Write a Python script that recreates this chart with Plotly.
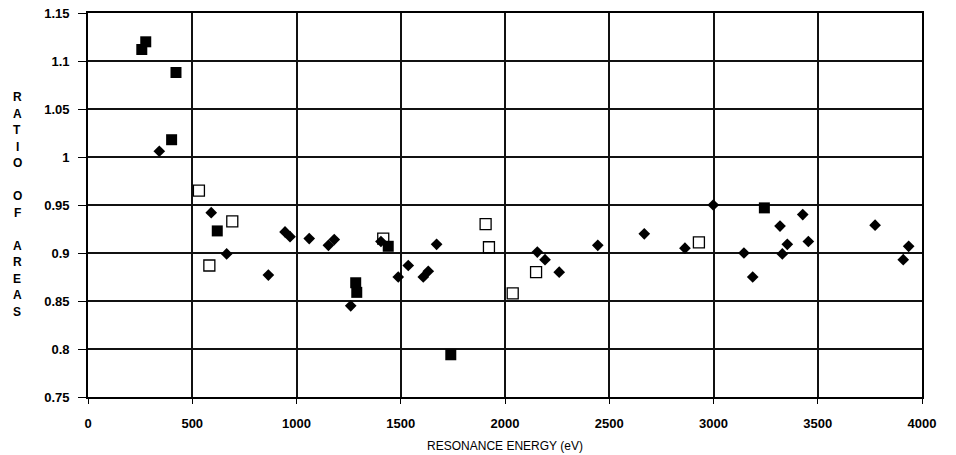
import plotly.graph_objects as go

# Resonance energies (eV) and ratio of areas, three data groups
diamond_energy = [342, 591, 665, 865, 945, 969, 1061, 1153, 1181, 1405, 1260, 1488,
                  1536, 1608, 1632, 1672, 2155, 2192, 2260, 2445, 2668, 2863, 2999,
                  3146, 3188, 3319, 3330, 3354, 3428, 3455, 3775, 3910, 3936]
diamond_ratio = [1.006, 0.942, 0.899, 0.877, 0.922, 0.917, 0.915, 0.908, 0.914, 0.912,
                 0.845, 0.875, 0.887, 0.875, 0.881, 0.909, 0.901, 0.893, 0.880, 0.908,
                 0.920, 0.905, 0.950, 0.900, 0.875, 0.928, 0.899, 0.909, 0.940, 0.912,
                 0.929, 0.893, 0.907]

filled_sq_energy = [258, 277, 422, 401, 620, 1284, 1289, 1440, 1740, 3244]
filled_sq_ratio = [1.112, 1.120, 1.088, 1.018, 0.923, 0.869, 0.859, 0.907, 0.794, 0.947]

open_sq_energy = [532, 692, 582, 1416, 1907, 1923, 2037, 2149, 2930]
open_sq_ratio = [0.965, 0.933, 0.887, 0.915, 0.930, 0.906, 0.858, 0.880, 0.911]

x_ticks = [0, 500, 1000, 1500, 2000, 2500, 3000, 3500, 4000]
y_ticks = [0.75, 0.8, 0.85, 0.9, 0.95, 1.0, 1.05, 1.1, 1.15]
y_tick_text = ["0.75", "0.8", "0.85", "0.9", "0.95", "1", "1.05", "1.1", "1.15"]

x_title = "RESONANCE ENERGY (eV)"
y_title_lines = ["R", "A", "T", "I", "O", "", "O", "F", "", "A", "R", "E", "A", "S"]

W, H = 956, 455
M_L, M_R, M_T, M_B = 88, 34, 13, 58
plot_w = W - M_L - M_R
plot_h = H - M_T - M_B

fig = go.Figure()

fig.add_trace(go.Scatter(
    x=open_sq_energy, y=open_sq_ratio, mode="markers", name="open",
    marker=dict(symbol="square", size=11, color="white",
                line=dict(color="black", width=1.3)),
))
fig.add_trace(go.Scatter(
    x=filled_sq_energy, y=filled_sq_ratio, mode="markers", name="filled",
    marker=dict(symbol="square", size=11, color="black",
                line=dict(color="black", width=0)),
))
fig.add_trace(go.Scatter(
    x=diamond_energy, y=diamond_ratio, mode="markers", name="diamond",
    marker=dict(symbol="diamond", size=9, color="black",
                line=dict(color="black", width=0)),
))

tick_font = dict(family="Liberation Sans, Arial, sans-serif", size=13,
                 color="black", weight="bold")

fig.update_xaxes(
    range=[0, 4000], tickvals=x_ticks, ticktext=[str(v) for v in x_ticks],
    showgrid=True, gridcolor="#111111", gridwidth=1.5,
    showline=True, linecolor="black", linewidth=1.6, mirror=True,
    ticks="outside", ticklen=5, tickcolor="black", tickwidth=1.4,
    ticklabelstandoff=9, tickfont=tick_font, zeroline=False,
    automargin=False,
    title=dict(text=x_title, standoff=11,
               font=dict(family="Liberation Sans, Arial, sans-serif",
                         size=12, color="black")),
)
fig.update_yaxes(
    range=[0.75, 1.15], tickvals=y_ticks, ticktext=y_tick_text,
    showgrid=True, gridcolor="#111111", gridwidth=1.5,
    showline=True, linecolor="black", linewidth=1.6, mirror=True,
    ticks="outside", ticklen=8, tickcolor="black", tickwidth=1.4,
    ticklabelstandoff=6, tickfont=tick_font, zeroline=False,
    automargin=False,
)

# Vertical axis title, one letter per line
first_px, step_px = 97.0, 16.5
for i, ch in enumerate(y_title_lines):
    if not ch:
        continue
    py = first_px + i * step_px
    fig.add_annotation(
        text=ch, xref="paper", yref="paper",
        x=(17 - M_L) / plot_w, y=1 - (py - M_T) / plot_h,
        xanchor="center", yanchor="middle", showarrow=False,
        font=dict(family="Liberation Sans, Arial, sans-serif", size=12,
                  color="black", weight="bold"),
    )

fig.update_layout(
    width=W, height=H,
    margin=dict(l=M_L, r=M_R, t=M_T, b=M_B),
    paper_bgcolor="white", plot_bgcolor="white",
    showlegend=False,
)

fig.write_html("out.html")
